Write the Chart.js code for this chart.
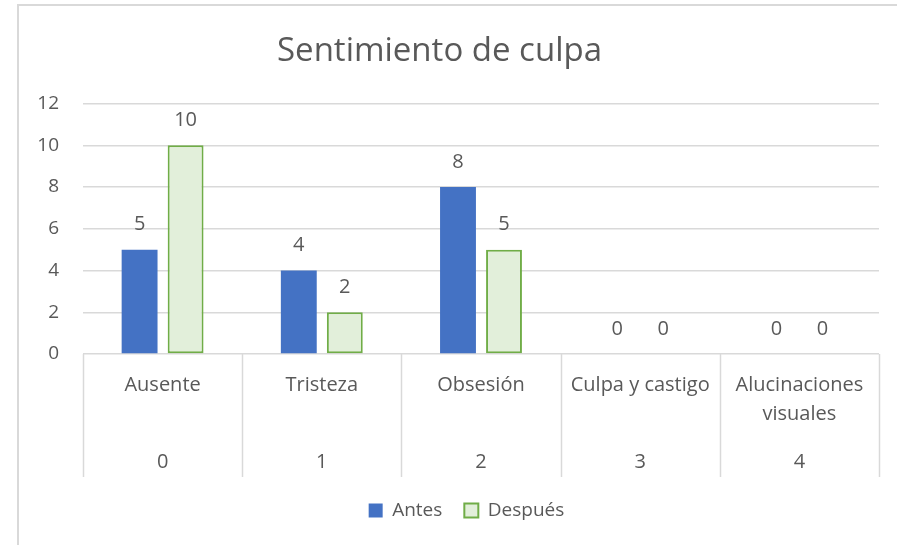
<!DOCTYPE html>
<html>
<head>
<meta charset="utf-8">
<script src="https://cdn.jsdelivr.net/npm/chart.js@4.4.0/dist/chart.umd.min.js"></script>
<style>
  html, body { margin: 0; padding: 0; background: #fff; overflow: hidden; }
  #frame { position: absolute; left: 17px; top: 4px; width: 1000px; height: 1000px; border: 2px solid #d9d9d9; }
  #wrap { position: absolute; left: 0; top: 0; width: 897px; height: 545px; }
</style>
</head>
<body>
<div id="frame"></div>
<div id="wrap"><canvas id="chart"></canvas></div>
<script>
// chart data
const categories = [['Ausente'], ['Tristeza'], ['Obsesión'], ['Culpa y castigo'], ['Alucinaciones', 'visuales']];
const codes = ['0', '1', '2', '3', '4'];
const antes = [5, 4, 8, 0, 0];
const despues = [10, 2, 5, 0, 0];
const yTicks = [0, 2, 4, 6, 8, 10, 12];

const FONT = '"Open Sans", sans-serif';
const TEXT = '#595959';
const GRID = '#d9d9d9';

// value labels above the bars
const valueLabels = {
  id: 'valueLabels',
  afterDatasetsDraw(chart) {
    const ctx = chart.ctx;
    ctx.save();
    ctx.font = '20px ' + FONT;
    ctx.fillStyle = TEXT;
    ctx.textAlign = 'center';
    ctx.textBaseline = 'middle';
    chart.data.datasets.forEach((ds, i) => {
      chart.getDatasetMeta(i).data.forEach((bar, j) => {
        ctx.fillText(String(ds.data[j]), bar.x, bar.y - 25);
      });
    });
    ctx.restore();
  }
};

// two level category axis (names + codes) with separators
const categoryTable = {
  id: 'categoryTable',
  afterLayout(chart) {
    // the legend sits a bit right of the canvas centre in the original
    chart.legend.left += 27;
    chart.legend.right += 27;
  },
  afterDraw(chart) {
    const x = chart.scales.x;
    const ctx = chart.ctx;
    const n = categories.length;
    const w = (x.right - x.left) / n;
    ctx.save();
    ctx.strokeStyle = GRID;
    ctx.lineWidth = 1.5;
    for (let i = 0; i <= n; i++) {
      const px = Math.round(x.left + i * w) + 0.5;
      ctx.beginPath();
      ctx.moveTo(px, x.top);
      ctx.lineTo(px, x.top + 123);
      ctx.stroke();
    }
    ctx.font = '20px ' + FONT;
    ctx.fillStyle = TEXT;
    ctx.textAlign = 'center';
    ctx.textBaseline = 'middle';
    for (let i = 0; i < n; i++) {
      const cx = x.getPixelForValue(i);
      categories[i].forEach((line, k) => {
        ctx.fillText(line, cx, x.top + 31 + k * 29);
      });
      ctx.fillText(codes[i], cx, x.top + 108);
    }
    ctx.restore();
  }
};

new Chart(document.getElementById('chart'), {
  type: 'bar',
  data: {
    labels: categories,
    datasets: [
      {
        label: 'Antes',
        data: antes,
        backgroundColor: '#4472c4',
        borderColor: '#4472c4',
        borderWidth: 0,
        categoryPercentage: 0.578,
        barPercentage: 0.78
      },
      {
        label: 'Después',
        data: despues,
        backgroundColor: '#e2efda',
        borderColor: '#70ad47',
        borderWidth: ctx => (ctx.raw === 0 ? 0 : 2),
        borderSkipped: false,
        categoryPercentage: 0.578,
        barPercentage: 0.78
      }
    ]
  },
  options: {
    responsive: true,
    maintainAspectRatio: false,
    animation: false,
    layout: { padding: { left: 0, right: 18, top: 0, bottom: 15 } },
    scales: {
      x: {
        grid: { display: false },
        border: { display: false },
        ticks: { display: false },
        afterFit: scale => { scale.height = 125; }
      },
      y: {
        min: 0,
        max: 12,
        afterBuildTicks: scale => { scale.ticks = yTicks.map(v => ({ value: v })); },
        afterFit: scale => { scale.width = 83; },
        grid: { color: GRID, lineWidth: 1.5, drawTicks: false },
        border: { display: false },
        ticks: { padding: 24, color: TEXT, font: { family: FONT, size: 19 } }
      }
    },
    plugins: {
      title: {
        display: true,
        text: 'Sentimiento de culpa',
        color: TEXT,
        font: { family: FONT, size: 33, weight: 'normal' },
        padding: { top: 32, bottom: 32 }
      },
      legend: {
        position: 'bottom',
        labels: {
          color: TEXT,
          font: { family: FONT, size: 19 },
          boxWidth: 14,
          boxHeight: 14,
          padding: 22
        }
      },
      tooltip: { enabled: false }
    }
  },
  plugins: [valueLabels, categoryTable]
});
</script>
</body>
</html>
